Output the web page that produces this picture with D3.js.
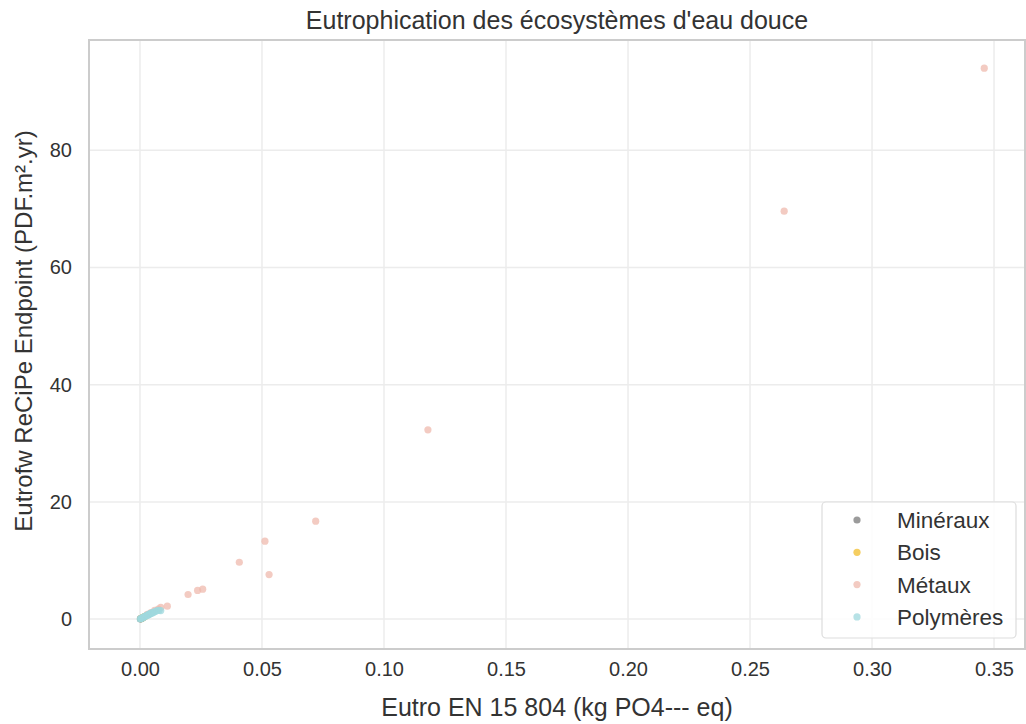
<!DOCTYPE html>
<html>
<head>
<meta charset="utf-8">
<script src="https://cdn.jsdelivr.net/npm/d3@7"></script>
<style>
  body { margin: 0; background: #fff; }
  text { font-family: Arial, "Liberation Sans", sans-serif; fill: #333; }
</style>
</head>
<body>
<svg id="chart" width="1026" height="724"></svg>
<script>
const title = "Eutrophication des écosystèmes d'eau douce";
const xLabel = "Eutro EN 15 804 (kg PO4--- eq)";
const yLabel = "Eutrofw ReCiPe Endpoint (PDF.m².yr)";
const categories = ["Minéraux", "Bois", "Métaux", "Polymères"];
const colors = ["#7a7a7a", "#f2bd2c", "#efb9ae", "#9fd8de"];
const xTicks = [0.00, 0.05, 0.10, 0.15, 0.20, 0.25, 0.30, 0.35];
const yTicks = [0, 20, 40, 60, 80];

const mineraux = [[0.0002, 0.03], [0.0005, 0.1], [0.0008, 0.15], [0.0012, 0.25], [0.0003, 0.05]];
const bois = [[0.0004, 0.08], [0.0009, 0.2], [0.0015, 0.35], [0.002, 0.45]];
const metaux = [[0.346, 94.0], [0.264, 69.6], [0.118, 32.3], [0.072, 16.7], [0.0512, 13.3],
  [0.0529, 7.6], [0.0407, 9.7], [0.0257, 5.1], [0.0236, 4.9], [0.0197, 4.2],
  [0.0112, 2.2], [0.0085, 2.0], [0.0075, 1.7], [0.006, 1.5], [0.0045, 1.1], [0.003, 0.8]];
const polymeres = [[0.0001, 0.02], [0.0003, 0.06], [0.0006, 0.12], [0.0009, 0.2], [0.0012, 0.27],
  [0.0015, 0.33], [0.0018, 0.4], [0.0021, 0.47], [0.0024, 0.53], [0.0027, 0.6],
  [0.003, 0.66], [0.0033, 0.72], [0.0036, 0.8], [0.004, 0.88], [0.0044, 0.96],
  [0.0048, 1.05], [0.0052, 1.1], [0.0057, 1.2], [0.0062, 1.3], [0.007, 1.45], [0.0078, 1.5], [0.0085, 1.45]];
const seriesData = [mineraux, bois, metaux, polymeres];

const svg = d3.select("#chart");
const L = 89, R = 1025, T = 40, B = 649;
const x = d3.scaleLinear().domain([-0.0209, 0.3627]).range([L, R]);
const y = d3.scaleLinear().domain([-5.1, 98.8]).range([B, T]);

// grid
const g = svg.append("g");
g.selectAll(".vg").data(xTicks).enter().append("line")
  .attr("x1", d => x(d)).attr("x2", d => x(d)).attr("y1", T).attr("y2", B)
  .attr("stroke", "#ececec").attr("stroke-width", 1.5);
g.selectAll(".hg").data(yTicks).enter().append("line")
  .attr("y1", d => y(d)).attr("y2", d => y(d)).attr("x1", L).attr("x2", R)
  .attr("stroke", "#ececec").attr("stroke-width", 1.5);

// axes (labels only)
const xAxis = svg.append("g").attr("transform", `translate(0,${B})`)
  .call(d3.axisBottom(x).tickValues(xTicks).tickFormat(d3.format(".2f")).tickSize(0).tickPadding(8));
const yAxis = svg.append("g").attr("transform", `translate(${L},0)`)
  .call(d3.axisLeft(y).tickValues(yTicks).tickFormat(d3.format("d")).tickSize(0).tickPadding(17));
[xAxis, yAxis].forEach(a => {
  a.select(".domain").remove();
  a.selectAll("text").style("font-size", "20px").attr("fill", "#333");
});
xAxis.selectAll("text").attr("dy", "0.95em");

// points
seriesData.forEach((pts, i) => {
  svg.append("g").selectAll("circle").data(pts).enter().append("circle")
    .attr("cx", d => x(d[0])).attr("cy", d => y(d[1])).attr("r", 3.6)
    .attr("fill", colors[i]).attr("fill-opacity", 0.75);
});

// frame
svg.append("rect").attr("x", L).attr("y", T).attr("width", R - L).attr("height", B - T)
  .attr("fill", "none").attr("stroke", "#cccccc").attr("stroke-width", 2);

// title & labels
svg.append("text").attr("x", (L + R) / 2).attr("y", 29).attr("text-anchor", "middle")
  .style("font-size", "25px").text(title);
svg.append("text").attr("x", (L + R) / 2).attr("y", 716).attr("text-anchor", "middle")
  .style("font-size", "25px").text(xLabel);
svg.append("text").attr("transform", `translate(32,331) rotate(-90)`)
  .attr("text-anchor", "middle").style("font-size", "24px").text(yLabel);

// legend
const lg = svg.append("g");
lg.append("rect").attr("x", 822).attr("y", 502).attr("width", 194).attr("height", 136)
  .attr("rx", 4).attr("fill", "#fff").attr("fill-opacity", 0.85)
  .attr("stroke", "#dddddd").attr("stroke-width", 1.2);
categories.forEach((c, i) => {
  const cy = 520 + i * 32.3;
  lg.append("circle").attr("cx", 857).attr("cy", cy).attr("r", 3.6)
    .attr("fill", colors[i]).attr("fill-opacity", 0.75);
  lg.append("text").attr("x", 897).attr("y", cy + 8).style("font-size", "22.5px").text(c);
});
</script>
</body>
</html>
